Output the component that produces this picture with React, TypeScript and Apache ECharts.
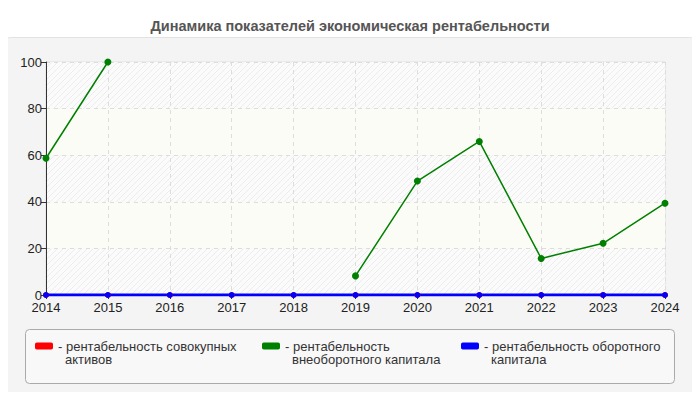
import React, { useEffect, useRef } from "react";
import * as echarts from "echarts";

const years = ["2014", "2015", "2016", "2017", "2018", "2019", "2020", "2021", "2022", "2023", "2024"];
const totalAssets = [0, 0, 0, 0, 0, 0, 0, 0, 0, 0, 0];
const fixedCapital: (number | null)[] = [58.7, 100, null, null, null, 8.2, 48.9, 65.9, 15.7, 22.2, 39.4];
const workingCapital = [0, 0, 0, 0, 0, 0, 0, 0, 0, 0, 0];
const seriesNames = [
  "рентабельность совокупных активов",
  "рентабельность внеоборотного капитала",
  "рентабельность оборотного капитала",
];
const legendLines: Record<string, [string, string]> = {
  "рентабельность совокупных активов": ["рентабельность совокупных", "активов"],
  "рентабельность внеоборотного капитала": ["рентабельность", "внеоборотного капитала"],
  "рентабельность оборотного капитала": ["рентабельность оборотного", "капитала"],
};
const colors = ["#ff0000", "#008000", "#0000ff"];
const titleText = "Динамика показателей экономическая рентабельности";

const FONT = "Arial, 'Liberation Sans', sans-serif";

function makeHatch(): any {
  const c = document.createElement("canvas");
  c.width = 6;
  c.height = 6;
  const ctx = c.getContext("2d")!;
  ctx.fillStyle = "#fbfbfb";
  ctx.fillRect(0, 0, 6, 6);
  ctx.strokeStyle = "#ececec";
  ctx.lineWidth = 1;
  ctx.beginPath();
  for (let k = -6; k <= 12; k += 6) {
    ctx.moveTo(k, 6);
    ctx.lineTo(k + 6, 0);
  }
  ctx.stroke();
  return { image: c, repeat: "repeat" };
}

export default function App() {
  const ref = useRef<HTMLDivElement>(null);
  useEffect(() => {
    if (!ref.current) return;
    const chart = echarts.init(ref.current, undefined, { renderer: "svg" });
    const hatch = makeHatch();
    const legendLefts = [35, 262, 461];
    const legends = seriesNames.map((n, i) => ({
      data: [n],
      left: legendLefts[i],
      top: 326.5,
      padding: 0,
      icon: "roundRect",
      itemWidth: 18,
      itemHeight: 7,
      selectedMode: false,
      formatter: (name: string) => {
        const l = legendLines[name];
        return `{d|-} ${l[0]}\n{s|}${l[1]}`;
      },
      textStyle: {
        fontFamily: FONT,
        fontSize: 13,
        color: "#333",
        lineHeight: 13,
        padding: [13, 0, 0, 0],
        rich: {
          d: { fontFamily: FONT, fontSize: 13, color: "#333", lineHeight: 13 },
          s: { width: 7, lineHeight: 13 },
        },
      },
    }));
    chart.setOption({
      animation: false,
      color: colors,
      title: {
        text: titleText,
        left: "center",
        top: 13,
        textStyle: {
          fontFamily: FONT,
          fontSize: 14.5,
          fontWeight: "bold",
          color: "#555",
        },
      },
      graphic: [
        {
          type: "rect",
          z: -10,
          shape: { x: 2.5, y: 37.5, width: 695, height: 359, r: 8 },
          style: { fill: "#f4f4f4", stroke: "#e2e2e2", lineWidth: 1 },
        },
        {
          type: "rect",
          z: -9,
          shape: { x: 25.5, y: 329.5, width: 649, height: 54, r: 4 },
          style: { fill: "#f8f8f8", stroke: "#aaaaaa", lineWidth: 1 },
        },
      ],
      legend: legends,
      grid: {
        left: 46,
        right: 35,
        top: 62,
        bottom: 105,
        show: true,
        borderColor: "#e0e0e0",
        borderWidth: 1,
        backgroundColor: "transparent",
      },
      xAxis: {
        type: "category",
        data: years,
        boundaryGap: false,
        axisLine: { lineStyle: { color: "#333" } },
        axisTick: { show: true, alignWithLabel: true, length: 4, lineStyle: { color: "#333" } },
        axisLabel: {
          fontFamily: FONT,
          fontSize: 13,
          color: "#222",
          margin: 6,
        },
        splitLine: { show: true, lineStyle: { color: "#dddddd", type: [4, 4] } },
      },
      yAxis: {
        type: "value",
        min: 0,
        max: 100,
        interval: 20,
        axisLine: { show: true, lineStyle: { color: "#333" } },
        axisTick: { show: true, length: 5, lineStyle: { color: "#333" } },
        axisLabel: {
          fontFamily: FONT,
          fontSize: 13,
          color: "#222",
          margin: 4,
        },
        splitLine: { show: true, lineStyle: { color: "#dddddd", type: [4, 4] } },
        splitArea: { show: true, areaStyle: { color: [hatch, "#fcfcf6"] } },
      },
      series: [
        {
          name: seriesNames[0],
          type: "line",
          data: totalAssets,
          symbol: "circle",
          symbolSize: 6,
          lineStyle: { width: 2, color: colors[0] },
          itemStyle: { color: colors[0] },
        },
        {
          name: seriesNames[1],
          type: "line",
          data: fixedCapital,
          connectNulls: false,
          symbol: "circle",
          symbolSize: 7,
          lineStyle: { width: 1.5, color: colors[1] },
          itemStyle: { color: colors[1] },
        },
        {
          name: seriesNames[2],
          type: "line",
          data: workingCapital,
          symbol: "circle",
          symbolSize: 6,
          lineStyle: { width: 3, color: colors[2] },
          itemStyle: { color: colors[2] },
        },
      ],
    });
    return () => chart.dispose();
  }, []);
  return <div ref={ref} style={{ width: 700, height: 400, margin: -8 }} />;
}
